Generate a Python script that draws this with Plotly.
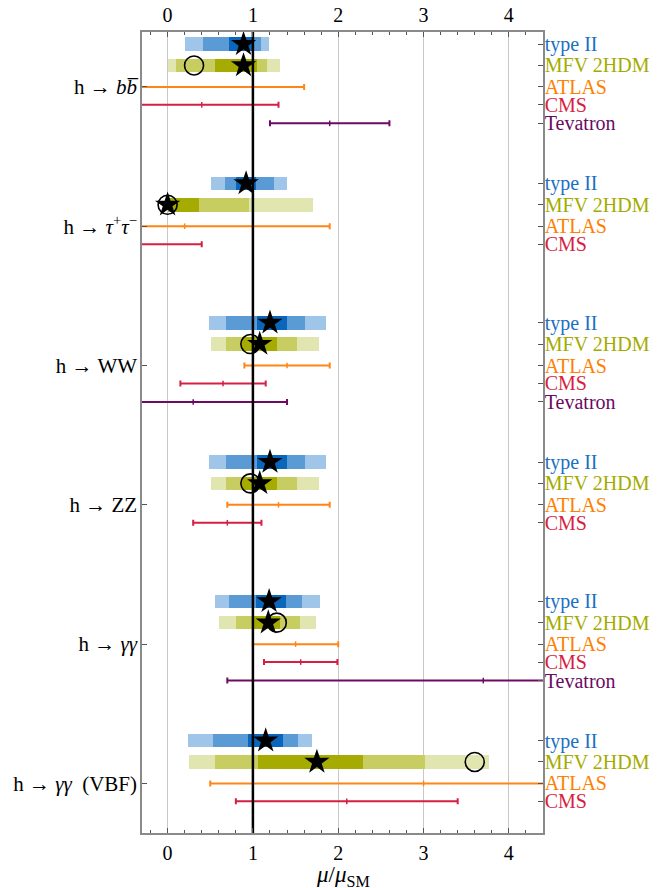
import plotly.graph_objects as go

# ---------------- data ----------------
process_labels = [
    "h \u2192 <i>b</i><i>b\u0305</i>",
    "h \u2192 <i>\u03c4</i><sup>+</sup><i>\u03c4</i><sup>\u2212</sup>",
    "h \u2192 WW",
    "h \u2192 ZZ",
    "h \u2192 <i>\u03b3\u03b3</i>",
    "h \u2192 <i>\u03b3\u03b3</i>\u00a0\u00a0(VBF)",
]

# type II 2HDM fit bands (outer, middle, inner) and best fit
t2_light_lo = [0.20, 0.51, 0.48, 0.48, 0.55, 0.24]
t2_light_hi = [1.19, 1.40, 1.86, 1.86, 1.79, 1.69]
t2_mid_lo = [0.42, 0.67, 0.68, 0.68, 0.72, 0.53]
t2_mid_hi = [1.10, 1.25, 1.61, 1.61, 1.58, 1.53]
t2_dark_lo = [0.72, 0.80, 1.05, 1.05, 1.04, 0.94]
t2_dark_hi = [1.01, 1.04, 1.40, 1.40, 1.39, 1.35]
t2_best = [0.89, 0.92, 1.20, 1.20, 1.19, 1.15]

# MFV 2HDM fit bands and best fit / second minimum
mfv_light_lo = [0.00, 0.00, 0.51, 0.51, 0.60, 0.25]
mfv_light_hi = [1.32, 1.70, 1.77, 1.77, 1.74, 3.77]
mfv_mid_lo = [0.10, 0.00, 0.68, 0.68, 0.80, 0.56]
mfv_mid_hi = [1.17, 0.95, 1.52, 1.52, 1.55, 3.02]
mfv_dark_lo = [0.56, 0.00, 0.87, 0.87, 1.00, 1.06]
mfv_dark_hi = [1.05, 0.37, 1.28, 1.28, 1.32, 2.29]
mfv_best = [0.89, 0.00, 1.08, 1.08, 1.18, 1.75]
mfv_circle = [0.31, 0.00, 0.97, 0.97, 1.28, 3.60]

# experimental measurements (central value, symmetric error)
atlas_c = [-0.40, 0.20, 1.40, 1.30, 1.50, 3.00]
atlas_e = [2.00, 1.70, 0.50, 0.60, 0.50, 2.50]
cms_c = [0.40, -0.40, 0.65, 0.70, 1.56, 2.10]
cms_e = [0.90, 0.80, 0.50, 0.40, 0.43, 1.30]
tev_proc = [0, 2, 4]
tev_c = [1.90, 0.30, 3.70]
tev_e = [0.70, 1.10, 3.00]

# ---------------- layout of rows ----------------
GROUP = 7.0
OFF = {"type II": -2.15, "MFV 2HDM": -1.08, "ATLAS": 0.0, "CMS": 0.9, "Tevatron": 1.83}
COL_TXT = {"type II": "#1a6fc4", "MFV 2HDM": "#a3ab00", "ATLAS": "#ff8000",
           "CMS": "#d61e42", "Tevatron": "#6a0a62"}
n = len(process_labels)
base = [GROUP * k for k in range(n)]
y_t2 = [b + OFF["type II"] for b in base]
y_mfv = [b + OFF["MFV 2HDM"] for b in base]
y_atlas = [b + OFF["ATLAS"] for b in base]
y_cms = [b + OFF["CMS"] for b in base]
y_tev = [base[k] + OFF["Tevatron"] for k in tev_proc]

YTOP, YBOT = -2.76, 37.49
XMIN, XMAX = -0.3, 4.4
FONT = "Liberation Serif"

fig = go.Figure()

def band(lo, hi, ys, color):
    fig.add_trace(go.Bar(
        orientation="h", y=ys, base=lo, x=[h - l for l, h in zip(lo, hi)],
        width=0.68, marker=dict(color=color, line=dict(width=0)),
        showlegend=False, hoverinfo="skip"))

band(t2_light_lo, t2_light_hi, y_t2, "#9fc5e8")
band(t2_mid_lo, t2_mid_hi, y_t2, "#5b9bd5")
band(t2_dark_lo, t2_dark_hi, y_t2, "#0a66bb")
band(mfv_light_lo, mfv_light_hi, y_mfv, "#e1e5b0")
band(mfv_mid_lo, mfv_mid_hi, y_mfv, "#c8cd62")
band(mfv_dark_lo, mfv_dark_hi, y_mfv, "#a5ab00")

def meas(c, e, ys, color):
    fig.add_trace(go.Scatter(
        x=c, y=ys, mode="markers",
        marker=dict(symbol="line-ns-open", size=4, color=color, line=dict(color=color, width=1.5)),
        error_x=dict(type="data", array=e, symmetric=True, color=color, thickness=2, width=3),
        showlegend=False, hoverinfo="skip"))

meas(atlas_c, atlas_e, y_atlas, "#ff8516")
meas(cms_c, cms_e, y_cms, "#d42044")
meas(tev_c, tev_e, y_tev, "#6e0a64")

# SM reference line at mu = 1
fig.add_trace(go.Scatter(x=[1, 1], y=[YTOP, YBOT], mode="lines",
                         line=dict(color="black", width=2.5), showlegend=False, hoverinfo="skip"))

# markers
fig.add_trace(go.Scatter(x=mfv_circle, y=y_mfv, mode="markers",
                         marker=dict(symbol="circle-open", size=19, color="black", line=dict(width=1.6)),
                         showlegend=False, hoverinfo="skip"))
fig.add_trace(go.Scatter(x=t2_best, y=y_t2, mode="markers",
                         marker=dict(symbol="star", size=19, color="black"),
                         showlegend=False, hoverinfo="skip"))
fig.add_trace(go.Scatter(x=mfv_best, y=y_mfv, mode="markers",
                         marker=dict(symbol="star", size=19, color="black"),
                         showlegend=False, hoverinfo="skip"))

# invisible traces to anchor top and right axes
fig.add_trace(go.Scatter(x=[XMIN], y=[YTOP], xaxis="x2", yaxis="y", mode="markers",
                         marker=dict(opacity=0), showlegend=False, hoverinfo="skip"))
fig.add_trace(go.Scatter(x=[XMIN], y=[YTOP], xaxis="x", yaxis="y2", mode="markers",
                         marker=dict(opacity=0), showlegend=False, hoverinfo="skip"))

# right labels
r_vals, r_text = [], []
for k in range(n):
    rows = ["type II", "MFV 2HDM", "ATLAS", "CMS"]
    if k in tev_proc:
        rows.append("Tevatron")
    for r in rows:
        r_vals.append(base[k] + OFF[r])
        r_text.append(f'<span style="color:{COL_TXT[r]}">{r}</span>')

axis_common = dict(showline=True, linecolor="#8a8a8a", linewidth=1.5, automargin=False)
TICKC = "#555555"

fig.update_layout(
    width=654, height=880,
    margin=dict(l=134, r=119, t=24, b=55),
    paper_bgcolor="white", plot_bgcolor="white",
    barmode="overlay", bargap=0,
    font=dict(family=FONT, size=20, color="black"),
    xaxis=dict(range=[XMIN, XMAX], tickvals=[0, 1, 2, 3, 4], ticks="inside", ticklen=5,
               tickcolor=TICKC, showgrid=True, gridcolor="#c8c8c8", gridwidth=1,
               zeroline=False, tickfont=dict(family=FONT, size=20), ticklabelstandoff=1,
               minor=dict(dtick=0.2, tick0=0, ticks="inside", ticklen=3, tickcolor=TICKC, showgrid=False),
               **axis_common),
    xaxis2=dict(range=[XMIN, XMAX], overlaying="x", side="top", matches="x",
                tickvals=[0, 1, 2, 3, 4], ticks="inside", ticklen=5, tickcolor=TICKC,
                showgrid=False, zeroline=False, tickfont=dict(family=FONT, size=20),
                minor=dict(dtick=0.2, tick0=0, ticks="inside", ticklen=3, tickcolor=TICKC),
                **axis_common),
    yaxis=dict(range=[YBOT, YTOP], tickvals=y_atlas, ticktext=process_labels,
               ticks="inside", ticklen=5, tickcolor=TICKC, showgrid=False, zeroline=False,
               tickfont=dict(family=FONT, size=21), ticklabelstandoff=-1,
               **axis_common),
    yaxis2=dict(range=[YBOT, YTOP], overlaying="y", side="right", tickvals=r_vals, ticktext=r_text,
                ticks="inside", ticklen=5, tickcolor=TICKC, showgrid=False, zeroline=False,
                tickfont=dict(family=FONT, size=20), ticklabelstandoff=-4,
                **axis_common),
    annotations=[dict(text="<i>\u03bc</i>/<i>\u03bc</i><sub>SM</sub>", xref="paper", yref="paper",
                      x=0.5, y=0, xanchor="center", yanchor="middle", yshift=-43,
                      showarrow=False, font=dict(family=FONT, size=23))],
)

fig.write_html("out.html")
